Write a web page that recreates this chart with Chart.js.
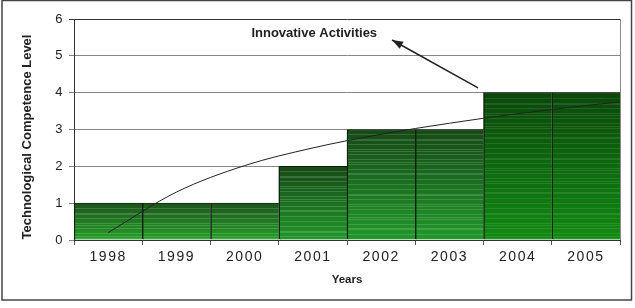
<!DOCTYPE html>
<html>
<head>
<meta charset="utf-8">
<script src="https://cdn.jsdelivr.net/npm/chart.js@4.4.1/dist/chart.umd.min.js"></script>
<style>
  html, body { margin: 0; padding: 0; background: #fff; }
  #wrap { width: 635px; height: 308px; }
</style>
</head>
<body>
<div id="wrap"><canvas id="chart" width="635" height="308"></canvas></div>
<script>
// Data
const years = ['1998', '1999', '2000', '2001', '2002', '2003', '2004', '2005'];
const competence = [1, 1, 1, 2, 3, 3, 4, 4];
// trend curve: position in category units (0 = 1998) and level
const trendPos = [0, 1, 2, 3, 4, 5, 6, 7, 7.5];
const trendLevel = [0.2, 1.3, 2.02, 2.5, 2.87, 3.17, 3.43, 3.65, 3.75];
const levelTicks = [0, 1, 2, 3, 4, 5, 6];

const annotationText = 'Innovative Activities';

// hex helpers for the striped green fill
function hexToRgb(h) {
    const n = parseInt(h.slice(1), 16);
    return [(n >> 16) & 255, (n >> 8) & 255, n & 255];
}
function mix(a, b, t) {
    return a.map((v, i) => Math.round(v + (b[i] - v) * t));
}
function rgb(c) { return `rgb(${c[0]},${c[1]},${c[2]})`; }

const barStyles = [
    { top: '#1c561c', bottom: '#25a028', stripe: 0.16 },
    { top: '#1c561c', bottom: '#25a028', stripe: 0.16 },
    { top: '#1c561c', bottom: '#25a028', stripe: 0.16 },
    { top: '#164a16', bottom: '#21982a', stripe: 0.15 },
    { top: '#164a16', bottom: '#21982a', stripe: 0.15 },
    { top: '#164a16', bottom: '#21982a', stripe: 0.15 },
    { top: '#0a480a', bottom: '#118a12', stripe: 0.10 },
    { top: '#0a480a', bottom: '#118a12', stripe: 0.10 }
];

function barFill(context) {
    const chart = context.chart;
    const { ctx, chartArea, scales } = chart;
    if (!chartArea || !scales.y) return '#1f7a1f';
    const st = barStyles[context.dataIndex] || barStyles[0];
    const top = scales.y.getPixelForValue(context.raw);
    const bottom = scales.y.getPixelForValue(0);
    const h = Math.max(1, Math.round(bottom - top));
    const g = ctx.createLinearGradient(0, top, 0, bottom);
    const cTop = hexToRgb(st.top), cBot = hexToRgb(st.bottom);
    const white = [255, 255, 255];
    for (let r = 0; r < h; r++) {
        const t = r / h;
        let c = mix(cTop, cBot, t);
        if ((r * 7) % 5 === 0 || (r * 13) % 11 === 0) c = mix(c, white, st.stripe);
        g.addColorStop(t, rgb(c));
        g.addColorStop(Math.min(1, (r + 1) / h - 0.0001), rgb(c));
    }
    return g;
}

const framePlugin = {
    id: 'frame',
    beforeDraw(chart) {
        // tick labels in the picture are wide-set
        chart.ctx.letterSpacing = '1.5px';
    },
    afterDraw(chart) {
        const { ctx, chartArea, scales } = chart;
        ctx.save();
        ctx.letterSpacing = '0px';

        // right edge of the plot
        ctx.strokeStyle = '#8a8a8a';
        ctx.lineWidth = 1;
        ctx.beginPath();
        ctx.moveTo(chartArea.right + 0.5, chartArea.top);
        ctx.lineTo(chartArea.right + 0.5, chartArea.bottom);
        ctx.stroke();

        // outer frame
        ctx.strokeStyle = '#444';
        ctx.lineWidth = 1.5;
        ctx.strokeRect(2, 0.5, 629.5, 299.5);

        // annotation with arrow
        const x2 = scales.x2, y = scales.y;
        const tailX = x2.getPixelForValue(5.42), tailY = y.getPixelForValue(4.13);
        const tipX = x2.getPixelForValue(4.16), tipY = y.getPixelForValue(5.43);
        ctx.strokeStyle = '#222';
        ctx.fillStyle = '#222';
        ctx.lineWidth = 1.5;
        ctx.beginPath();
        ctx.moveTo(tailX, tailY);
        ctx.lineTo(tipX, tipY);
        ctx.stroke();
        const ang = Math.atan2(tipY - tailY, tipX - tailX);
        const len = 11, wid = 4;
        ctx.beginPath();
        ctx.moveTo(tipX, tipY);
        ctx.lineTo(tipX - len * Math.cos(ang) + wid * Math.sin(ang), tipY - len * Math.sin(ang) - wid * Math.cos(ang));
        ctx.lineTo(tipX - len * Math.cos(ang) - wid * Math.sin(ang), tipY - len * Math.sin(ang) + wid * Math.cos(ang));
        ctx.closePath();
        ctx.fill();

        ctx.font = "bold 13px 'Liberation Sans', Arial, sans-serif";
        ctx.textAlign = 'center';
        ctx.textBaseline = 'middle';
        ctx.fillText(annotationText, x2.getPixelForValue(3.02), y.getPixelForValue(5.62));

        // axis titles
        ctx.font = "bold 11.5px 'Liberation Sans', Arial, sans-serif";
        ctx.fillText('Years', (chartArea.left + chartArea.right) / 2, 280);

        ctx.translate(27.5, 137);
        ctx.rotate(-Math.PI / 2);
        ctx.font = "bold 13px 'Liberation Sans', Arial, sans-serif";
        ctx.fillText('Technological Competence Level', 0, 0);
        ctx.restore();
    }
};

Chart.defaults.font.family = "'Liberation Sans', Arial, sans-serif";
Chart.defaults.color = '#222';

new Chart(document.getElementById('chart'), {
    data: {
        labels: years,
        datasets: [
            {
                type: 'line',
                label: 'Innovative Activities',
                data: trendPos.map((p, i) => ({ x: p, y: trendLevel[i] })),
                xAxisID: 'x2',
                borderColor: '#222',
                borderWidth: 1,
                pointRadius: 0,
                cubicInterpolationMode: 'monotone',
                fill: false,
                order: 0
            },
            {
                type: 'bar',
                label: 'Technological Competence Level',
                data: competence,
                xAxisID: 'x',
                backgroundColor: barFill,
                borderColor: '#0e200e',
                borderWidth: { left: 1.5, right: 0, top: 1, bottom: 0 },
                barPercentage: 1,
                categoryPercentage: 1,
                grouped: false,
                order: 1
            }
        ]
    },
    options: {
        responsive: false,
        devicePixelRatio: 1,
        animation: false,
        layout: { padding: { left: 0, right: 15, top: 19, bottom: 0 } },
        plugins: {
            legend: { display: false },
            tooltip: { enabled: false }
        },
        scales: {
            x: {
                type: 'category',
                offset: true,
                afterFit(scale) { scale.height = 68; },
                grid: {
                    offset: true,
                    drawOnChartArea: false,
                    tickLength: 5,
                    color: '#555'
                },
                border: { color: '#333', width: 1 },
                ticks: {
                    padding: 4,
                    font: { size: 14 },
                    color: '#222',
                    maxRotation: 0
                }
            },
            x2: {
                type: 'linear',
                display: false,
                min: -0.5,
                max: 7.5
            },
            y: {
                min: 0,
                max: 6,
                afterFit(scale) { scale.width = 74; },
                afterBuildTicks(scale) {
                    scale.ticks = levelTicks.map(v => ({ value: v }));
                },
                grid: {
                    color: (c) => (c.tick && c.tick.value === 6 ? '#333' : '#858585'),
                    tickLength: 5,
                    lineWidth: 1
                },
                border: { color: '#333', width: 1 },
                ticks: {
                    padding: 5,
                    font: { size: 13 },
                    color: '#222'
                }
            }
        }
    },
    plugins: [framePlugin]
});
</script>
</body>
</html>
